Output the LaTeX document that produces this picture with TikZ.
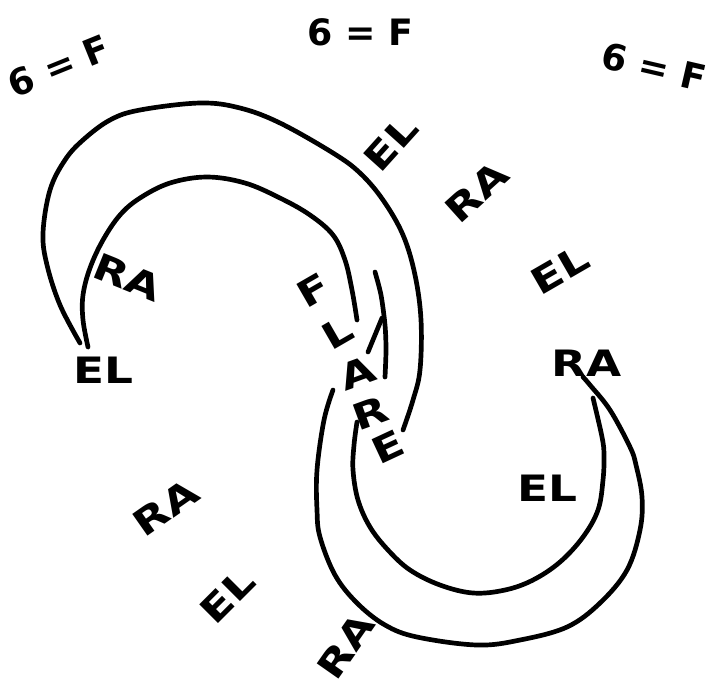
\documentclass[tikz,border=0pt]{standalone}
\usepackage{fontspec}
\setmainfont{DejaVu Sans}[FakeStretch=1.25]
\newfontfamily\sixfont{DejaVu Sans}
\usepackage{tikz}
\usetikzlibrary{positioning}

\begin{document}
\begin{tikzpicture}[x=0.03cm, y=-0.03cm, line width=4pt, line cap=round,
  every node/.style={font=\fontsize{31}{31}\selectfont\bfseries, inner sep=0pt},
  six/.style={font=\sixfont\fontsize{31}{31}\selectfont\bfseries}]
  \useasboundingbox (0,0) rectangle (713,686);

  % the three sixes
  \node[six, rotate=22]  (fa) at (59,66)  {6 = F};
  \node[six]             (fb) at (360,32) {6 = F};
  \node[six, rotate=-13] (fc) at (654,67) {6 = F};

  % letters round the upper crescent
  \node[rotate=48] (el1) at (391,143) {EL};
  \node[rotate=42] (ra1) at (477,192) {RA};
  \node[rotate=30] (el2) at (560,270) {EL};
  \node[rotate=-22] (ra2) at (128,277) {RA};
  \node (el3) at (103,370) {EL};

  % the word down the middle
  \node[rotate=30] (f) at (313,290) {F};
  \node[rotate=30] (l) at (337,333) {L};
  \node[rotate=20] (a) at (357,373) {A};
  \node[rotate=20] (r) at (370,413) {R};
  \node[rotate=25] (e) at (388,447) {E};

  % letters round the lower crescent
  \node (ra3) at (587,363) {RA};
  \node (el4) at (547,488) {EL};
  \node[rotate=35] (ra4) at (166,508) {RA};
  \node[rotate=45] (el5) at (227,596) {EL};
  \node[rotate=55] (ra5) at (346,646) {RA};

  % upper crescent
  \draw plot[smooth, tension=0.6] coordinates {(80,343) (60,305) (47,265) (43,233)
    (50,190) (65,160) (83,140) (110,120) (140,110) (200,103) (240,108) (280,123)
    (333,153) (360,173) (383,200) (403,235) (415,275) (421,320) (420,370)
    (413,400) (403,430)};
  \draw plot[smooth, tension=0.6] coordinates {(88,347) (83,320) (83,295) (90,268)
    (103,240) (120,215) (140,198) (170,183) (207,177) (245,183) (280,198)
    (310,215) (333,235) (345,260) (352,290) (357,320)};

  % strokes between
  \draw plot[smooth] coordinates {(375,272) (381,295) (385,325) (386,350) (385,377)};
  \draw (382,318) -- (368,352);

  % lower crescent
  \draw plot[smooth, tension=0.6] coordinates {(333,390) (324,420) (317,470)
    (317,510) (320,537) (335,575) (357,603) (385,625) (417,637) (477,645)
    (520,640) (567,627) (600,603) (627,570) (640,530) (642,497) (636,465)
    (630,447) (610,410) (590,385) (583,377)};
  \draw plot[smooth, tension=0.6] coordinates {(357,422) (354,445) (353,470)
    (358,500) (370,527) (388,550) (410,570) (440,585) (473,593) (505,590)
    (533,580) (560,562) (583,537) (598,510) (603,480) (604,455) (602,437)
    (593,398)};
\end{tikzpicture}
\end{document}
